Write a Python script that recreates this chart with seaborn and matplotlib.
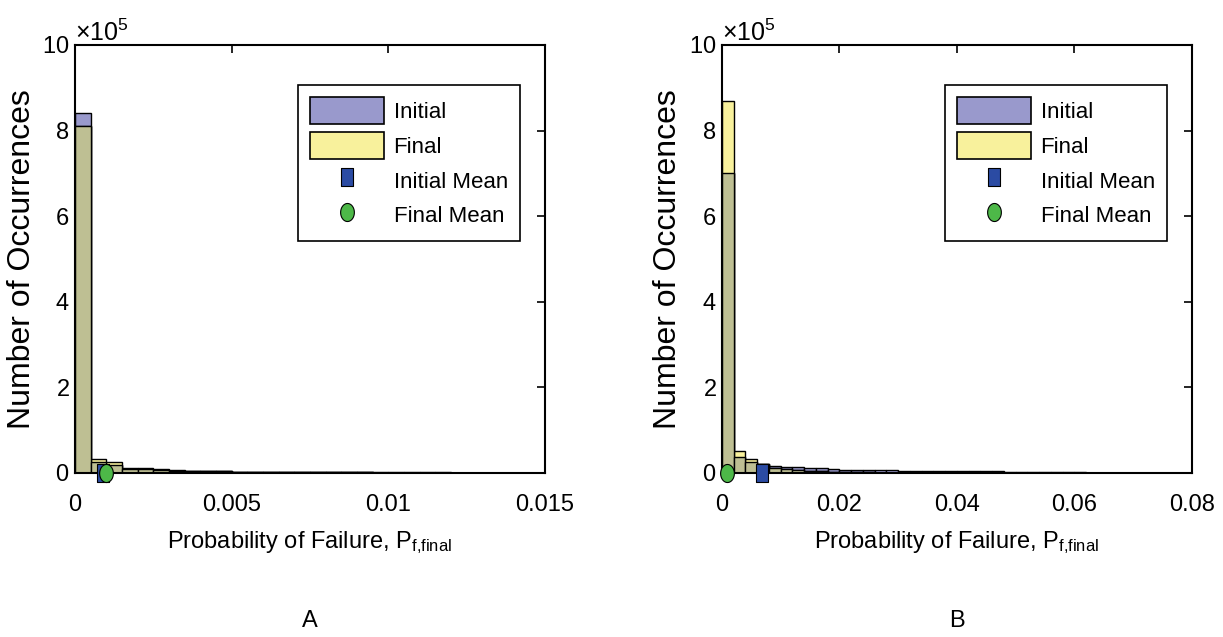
import numpy as np
import pandas as pd
import matplotlib
matplotlib.use("Agg")
import matplotlib.pyplot as plt
import seaborn as sns
from matplotlib.path import Path
from matplotlib.patches import Patch
from matplotlib.lines import Line2D

# ---- data ----
# panel A: bin width 0.0005 from 0 to 0.015
edges_a = np.arange(0, 0.015 + 1e-9, 0.0005)
init_a = [840000, 25000, 18000, 10000, 9000, 8000, 5000, 4500, 4000, 3500,
          3000, 2800, 2500, 2300, 2100, 2000, 1900, 1800, 1700, 1600,
          1500, 1400, 1300, 1200, 1100, 1000, 900, 800, 700, 0]
final_a = [810000, 33000, 26000, 12000, 11000, 10000, 6000, 5500, 5000, 4000,
           3000, 2500, 2000, 1800, 1600, 1500, 1400, 1300, 1200, 1100,
           1000, 900, 800, 700, 600, 500, 400, 300, 200, 0]
init_mean_a = 0.0009
final_mean_a = 0.001

# panel B: bin width 0.002 from 0 to 0.08
edges_b = np.arange(0, 0.08 + 1e-9, 0.002)
init_b = [700000, 37000, 25000, 20000, 16000, 14000, 13000, 12000, 11000, 9000,
          8000, 7500, 7000, 6500, 6000, 5500, 5200, 5000, 4800, 4500,
          4200, 4000, 3800, 3500, 3300, 3000, 2800, 2600, 2400, 2000,
          1500, 0, 0, 0, 0, 0, 0, 0, 0, 0]
final_b = [870000, 51000, 33000, 21000, 12000, 9000, 7000, 5000, 3500, 2500,
           2000, 1500, 1200, 1000, 900, 800, 700, 600, 500, 400,
           300, 300, 200, 200, 200, 100, 100, 100, 100, 100,
           0, 0, 0, 0, 0, 0, 0, 0, 0, 0]
init_mean_b = 0.0068
final_mean_b = 0.0009

xticks_a = [0, 0.005, 0.01, 0.015]
xticklabels_a = ["0", "0.005", "0.01", "0.015"]
xticks_b = [0, 0.02, 0.04, 0.06, 0.08]
xticklabels_b = ["0", "0.02", "0.04", "0.06", "0.08"]
yticks = [0, 200000, 400000, 600000, 800000, 1000000]

c_init = "#9999CC"
c_final = "#F8F19C"
c_both = "#BEBF93"
c_imean = "#2B4BA3"
c_fmean = "#4DB848"

sns.set_theme(style="white")
plt.rcParams["font.family"] = ["Liberation Sans", "DejaVu Sans"]
plt.rcParams["mathtext.fontset"] = "custom"
plt.rcParams["mathtext.rm"] = "Liberation Sans"
plt.rcParams["mathtext.it"] = "Liberation Sans"
plt.rcParams["text.color"] = "black"
plt.rcParams["axes.labelcolor"] = "black"

# tall markers (the original looks stretched vertically)
t = np.linspace(0, 2 * np.pi, 60)
ell = Path(np.column_stack([0.38 * np.cos(t), 0.5 * np.sin(t)]))
rect = Path([(-0.34, -0.5), (0.34, -0.5), (0.34, 0.5), (-0.34, 0.5), (-0.34, -0.5)],
            [Path.MOVETO, Path.LINETO, Path.LINETO, Path.LINETO, Path.CLOSEPOLY])

fig = plt.figure(figsize=(12.23, 6.37), dpi=100)
ax_a = fig.add_axes([0.0613, 0.2575, 0.3843, 0.672])
ax_b = fig.add_axes([0.5903, 0.2575, 0.3843, 0.672])


def panel(ax, edges, init, final, imean, fmean, xt, xtl, letter):
    centers = (edges[:-1] + edges[1:]) / 2
    df = pd.DataFrame({"p": centers, "init": init, "final": final})
    df["both"] = np.minimum(df["init"], df["final"])
    for col, c in [("init", c_init), ("final", c_final), ("both", c_both)]:
        sns.histplot(data=df, x="p", weights=col, bins=list(edges), color=c, alpha=1,
                     edgecolor="black", linewidth=1.0, ax=ax)
    sns.scatterplot(x=[imean], y=[0], marker=rect, s=13 ** 2, color=c_imean,
                    edgecolor="black", linewidth=0.8, zorder=5, clip_on=False, ax=ax)
    sns.scatterplot(x=[fmean], y=[0], marker=ell, s=13 ** 2, color=c_fmean,
                    edgecolor="black", linewidth=0.8, zorder=6, clip_on=False, ax=ax)

    ax.set_xlim(edges[0], xt[-1])
    ax.set_ylim(0, 1000000)
    ax.set_xticks(xt)
    ax.set_xticklabels(xtl)
    ax.set_yticks(yticks)
    ax.ticklabel_format(axis="y", style="sci", scilimits=(5, 5), useMathText=True)
    ax.yaxis.get_offset_text().set_fontsize(18)
    ax.tick_params(direction="in", top=True, right=True, length=6, width=1.2,
                   labelsize=17, colors="black")
    ax.tick_params(axis="x", pad=15)
    ax.tick_params(axis="y", pad=4)
    for s in ax.spines.values():
        s.set_linewidth(1.5)
        s.set_color("black")
    ax.set_ylabel("Number of Occurrences", fontsize=23, labelpad=4)
    ax.set_xlabel(r"Probability of Failure, P$_{\mathrm{f{,}final}}$", fontsize=17, labelpad=10)

    handles = [
        Patch(facecolor=c_init, edgecolor="black", linewidth=1.2),
        Patch(facecolor=c_final, edgecolor="black", linewidth=1.2),
        Line2D([], [], ls="", marker=rect, ms=13, mfc=c_imean, mec="black", mew=0.8),
        Line2D([], [], ls="", marker=ell, ms=13, mfc=c_fmean, mec="black", mew=0.8),
    ]
    leg = ax.legend(handles, ["Initial", "Final", "Initial Mean", "Final Mean"],
                    loc="upper right", bbox_to_anchor=(0.947, 0.907), borderaxespad=0,
                    fontsize=16, handlelength=3.3, handleheight=1.5, labelspacing=0.35,
                    handletextpad=0.45, borderpad=0.55, fancybox=False, framealpha=1)
    leg.get_frame().set_edgecolor("black")
    leg.get_frame().set_linewidth(1.2)

    ax.text(0.5, -0.346, letter, transform=ax.transAxes, ha="center", va="center",
            fontsize=17)


panel(ax_a, edges_a, init_a, final_a, init_mean_a, final_mean_a, xticks_a, xticklabels_a, "A")
panel(ax_b, edges_b, init_b, final_b, init_mean_b, final_mean_b, xticks_b, xticklabels_b, "B")

fig.savefig("out.png", dpi=100)
